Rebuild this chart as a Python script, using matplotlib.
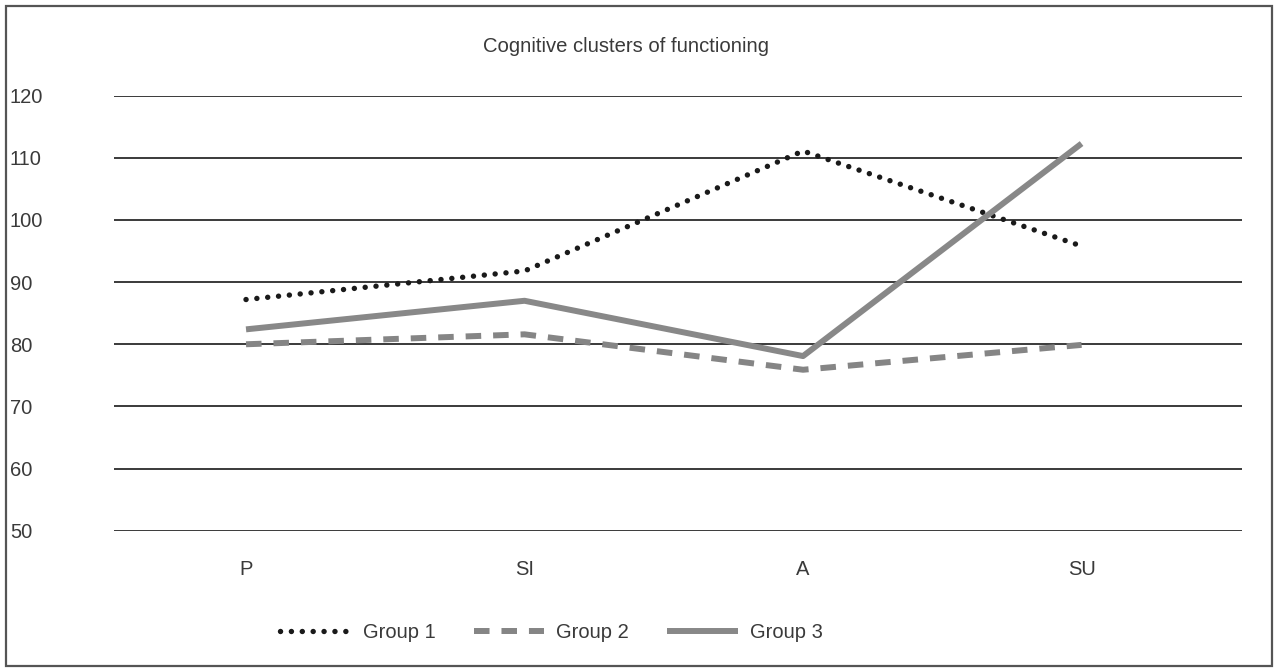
import numpy as np
import matplotlib.pyplot as plt
from matplotlib.patches import Rectangle

plt.rcParams['font.family'] = ['Liberation Sans', 'DejaVu Sans']

categories = ["P", "SI", "A", "SU"]
group1 = [87.2, 91.8, 111.1, 95.8]
group2 = [80.0, 81.6, 75.9, 79.9]
group3 = [82.4, 87.0, 78.1, 112.3]
yticks = [50, 60, 70, 80, 90, 100, 110, 120]

W, H = 1275, 670
fig = plt.figure(figsize=(W / 100, H / 100), dpi=100)
ax = fig.add_axes([114 / W, 1 - 530.7 / H, (1242 - 114) / W, (530.7 - 95.7) / H])

x = np.arange(len(categories))
txt = '#3a3a3a'
l1, = ax.plot(x, group1, color='#1a1a1a', lw=3.9, linestyle=(0, (0.01, 2.0)),
              dash_capstyle='round', label='Group 1', zorder=3)
l2, = ax.plot(x, group2, color='#858585', lw=4.3, linestyle=(0, (2.6, 2.0)),
              dash_capstyle='butt', label='Group 2', zorder=3)
l3, = ax.plot(x, group3, color='#888888', lw=4.3, solid_capstyle='butt',
              label='Group 3', zorder=3)

ax.set_xlim(-0.474, 3.576)
ax.set_ylim(50, 120)
ax.set_yticks(yticks)
ax.set_xticks(x)
ax.set_xticklabels(categories)
for s in ax.spines.values():
    s.set_visible(False)
ax.yaxis.grid(True, color='#3a3a3a', lw=1.4)
ax.set_axisbelow(True)
ax.tick_params(axis='y', length=0, pad=75, labelsize=14.5, labelcolor=txt)
ax.tick_params(axis='x', length=0, pad=21, labelsize=14.5, labelcolor=txt)
for lbl in ax.get_yticklabels():
    lbl.set_horizontalalignment('left')

fig.text(626 / W, 1 - 47 / H, "Cognitive clusters of functioning", ha='center', va='center',
         fontsize=14.6, color=txt)

# legend below the plot, laid out in one row
fig.legend(handles=[l1, l2, l3], loc='center left', bbox_to_anchor=(280 / W, 1 - 633 / H),
           ncol=3, frameon=False, fontsize=14.5,
           handlelength=3.5, handletextpad=0.6, columnspacing=1.9,
           borderpad=0, borderaxespad=0, labelcolor=txt)

fig.patches.append(Rectangle((6 / W, 4 / H), (1272 - 6) / W, (664 - 4) / H, transform=fig.transFigure,
                             fill=False, edgecolor='#555555', lw=1.6))

fig.savefig('out.png', dpi=100)
